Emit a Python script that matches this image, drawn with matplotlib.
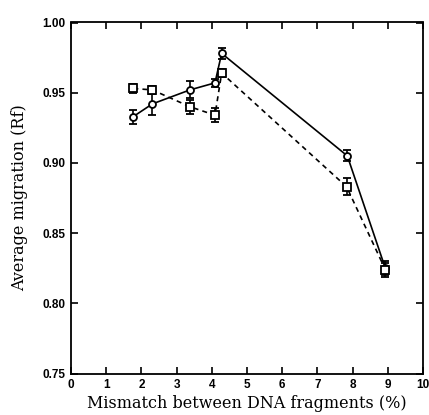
import matplotlib
matplotlib.use("Agg")
import matplotlib.pyplot as plt

# Данные: несоответствие (%) и средняя миграция (Rf)
circ_x = [1.77, 2.31, 3.38, 4.09, 4.28, 7.85, 8.93]
circ_y = [0.933, 0.942, 0.952, 0.957, 0.978, 0.905, 0.825]
circ_err = [0.005, 0.008, 0.006, 0.003, 0.004, 0.004, 0.005]

sq_x = [1.77, 2.31, 3.38, 4.09, 4.28, 7.83, 8.93]
sq_y = [0.953, 0.952, 0.940, 0.934, 0.964, 0.883, 0.824]
sq_err = [0.003, 0.003, 0.005, 0.005, 0.003, 0.006, 0.005]

x_ticks = list(range(0, 11))
y_ticks = [0.75, 0.80, 0.85, 0.90, 0.95, 1.00]

fig = plt.figure(figsize=(4.29, 4.15), dpi=100)
ax = fig.add_axes([71 / 429, 1 - 373.5 / 415, 352 / 429, 351 / 415])

# Линия с кружками
ax.errorbar(circ_x, circ_y, yerr=circ_err, color="black", linestyle="-", linewidth=1.2,
            marker="o", markersize=5, markerfacecolor="white", markeredgecolor="black",
            markeredgewidth=1.3, capsize=3, elinewidth=1.2, capthick=1.2, zorder=3)
# Пунктир с квадратами
ax.errorbar(sq_x, sq_y, yerr=sq_err, color="black", linestyle=(0, (3, 2.5)), linewidth=1.2,
            marker="s", markersize=5.5, markerfacecolor="white", markeredgecolor="black",
            markeredgewidth=1.3, capsize=3, elinewidth=1.2, capthick=1.2, zorder=3)

ax.set_xlim(0, 10)
ax.set_ylim(0.75, 1.00)
ax.set_xticks(x_ticks)
ax.set_yticks(y_ticks)
ax.set_xticklabels([str(t) for t in x_ticks], fontsize=8.5, fontweight="bold", family="Liberation Sans")
ax.set_yticklabels([f"{t:.2f}" for t in y_ticks], fontsize=8.5, fontweight="bold", family="Liberation Sans")
ax.tick_params(direction="in", top=True, right=True, length=5, width=1.2, pad=4)
for s in ax.spines.values():
    s.set_linewidth(1.3)

ax.set_xlabel("Mismatch between DNA fragments (%)", fontsize=11.5, family="DejaVu Serif", labelpad=3)
ax.set_ylabel("Average migration (Rf)", fontsize=11.5, family="DejaVu Serif", labelpad=10)

fig.savefig("out.png", dpi=100)
